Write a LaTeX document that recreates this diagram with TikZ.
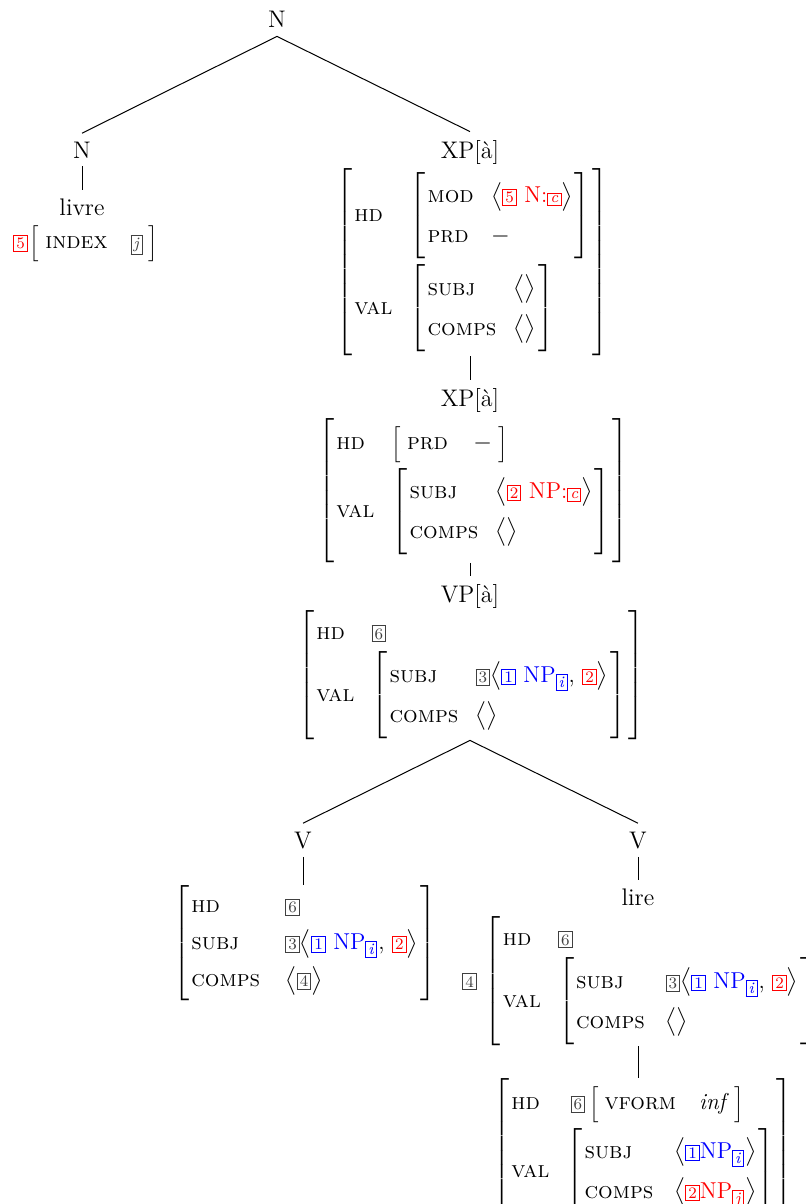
\documentclass[tikz,border=0pt]{standalone}
\usepackage{amsmath}
\usetikzlibrary{positioning}

\tikzset{
  cat/.style={font=\fontsize{12}{14}\selectfont, inner sep=4pt, anchor=base},
  fs/.style={font=\fontsize{11.5}{13}\selectfont, inner sep=0pt, anchor=north west},
  branch/.style={line width=0.5pt}
}

% boxed tags, lists and attribute-value matrices
\newcommand{\tg}[2][black!75]{\textcolor{#1}{\fboxsep=1pt\fboxrule=0.5pt\fbox{\fontsize{8}{8}\selectfont#2}}}
\newcommand{\ix}[2][blue]{\ensuremath{_{\mbox{\tg[#1]{\textit{#2}}}}}}
\newcommand{\lst}[1]{\ensuremath{\delimiterfactor=901\delimitershortfall=5pt\bigl\langle\mbox{#1}\bigr\rangle}}
\newcommand{\rs}{\rule[-6.5pt]{0pt}{20pt}}
\newcommand{\rsl}{\rule[-6pt]{0pt}{18.5pt}}
\newcommand{\avm}[2][0.75em]{\ensuremath{\delimiterfactor=1000\delimitershortfall=-1pt
  \left[\begin{tabular}{@{\hspace{1pt}}l@{\hspace{#1}}l@{\hspace{1pt}}}#2\end{tabular}\right]}}
% one-line matrix
\newcommand{\avmi}[1]{{\fontsize{10}{12}\selectfont$\delimiterfactor=901\delimitershortfall=5pt\Bigl[$}%
  \hspace{3pt}#1\hspace{3pt}%
  {\fontsize{10}{12}\selectfont$\delimiterfactor=901\delimitershortfall=5pt\Bigr]$}}

\begin{document}
\begin{tikzpicture}[x=0.5pt,y=-0.5pt]
\useasboundingbox (0,0) rectangle (806,1204);

% top
\node[cat] (N) at (277,28) {N};
\node[cat] (Nl) at (82,158) {N};
\node[cat] (livre) at (82,215) {livre};
\node[fs] (avmN) at (13,225) {\tg[red]{5}\hspace{1pt}\avmi{\textsc{index}\hspace{1em}\tg{\textit{j}}}};

\node[cat] (XPa) at (470,158) {XP[à]};
\node[fs] (avmXPa) at (336,168) {\avm{%
  \textsc{hd} & \avm{\textsc{mod}\rs & \lst{\textcolor{red}{\tg[red]{5} N:\tg[red]{\textit{c}}}} \\
                     \textsc{prd}\rs & $-$} \\ \noalign{\vskip 3pt}
  \textsc{val} & \avm{\textsc{subj}\rs & \lst{} \\
                      \textsc{comps}\rs & \lst{}}}};

% middle
\node[cat] (XPb) at (470,406) {XP[à]};
\node[fs] (avmXPb) at (318,418) {\avm{%
  \textsc{hd} & \avmi{\textsc{prd}\hspace{1.1em}$-$} \\ \noalign{\vskip 3pt}
  \textsc{val} & \avm{\textsc{subj}\rs & \lst{\textcolor{red}{\tg[red]{2} NP:\tg[red]{\textit{c}}}} \\
                      \textsc{comps}\rs & \lst{}}}};

\node[cat] (VP) at (470,602) {VP[à]};
\node[fs] (avmVP) at (298,610) {\avm{%
  \textsc{hd}\rs & \tg{6} \\
  \textsc{val} & \avm{\textsc{subj}\rs & \tg{3}\lst{\textcolor{blue}{\tg[blue]{1} NP\ix{i}}, \tg[red]{2}} \\
                      \textsc{comps}\rs & \lst{}}}};

% bottom
\node[cat] (Vl) at (303,848) {V};
\node[fs] (avmVl) at (173,885) {\avm[1.1em]{%
  \textsc{hd}\rsl & \tg{6} \\
  \textsc{subj}\rsl & \tg{3}\lst{\textcolor{blue}{\tg[blue]{1} NP\ix{i}}, \tg[red]{2}} \\
  \textsc{comps}\rsl & \lst{\tg{4}}}};

\node[cat] (Vr) at (638,848) {V};
\node[cat] (lire) at (638,905) {lire};
\node[fs] (avmVr) at (462,916) {\tg{4}\hspace{4pt}\avm{%
  \textsc{hd}\rs & \tg{6} \\
  \textsc{val} & \avm[0.9em]{\textsc{subj}\rs & \tg{3}\lst{\textcolor{blue}{\tg[blue]{1} NP\ix{i}}, \tg[red]{2}} \\
                      \textsc{comps}\rs & \lst{}}}};

\node[fs] (avmB) at (493,1078) {\avm{%
  \textsc{hd} & \hspace{2pt}\tg{6}\hspace{2pt}\avmi{\textsc{vform}\hspace{1em}\textit{inf}} \\ \noalign{\vskip 3pt}
  \textsc{val} & \avm[0.9em]{\textsc{subj}\rs & \lst{\textcolor{blue}{\tg[blue]{1}NP\ix{i}}} \\
                      \textsc{comps}\rs & \lst{\textcolor{red}{\tg[red]{2}NP\ix[red]{j}}}}}};

% branches
\draw[branch] (N.south) -- (Nl.north);
\draw[branch] (N.south) -- (XPa.north);
\draw[branch] (Nl.south) -- (livre.north);
\draw[branch] (avmXPa.south -| XPb) -- (XPb.north);
\draw[branch] (avmXPb.south -| VP) -- (VP.north);
\draw[branch] (avmVP.south -| VP) -- (Vl.north);
\draw[branch] (avmVP.south -| VP) -- (Vr.north);
\draw[branch] (Vl.south) -- (avmVl.north -| Vl);
\draw[branch] (Vr.south) -- (lire.north);
\draw[branch] (avmVr.south -| lire) -- (avmB.north -| lire);
\end{tikzpicture}
\end{document}
